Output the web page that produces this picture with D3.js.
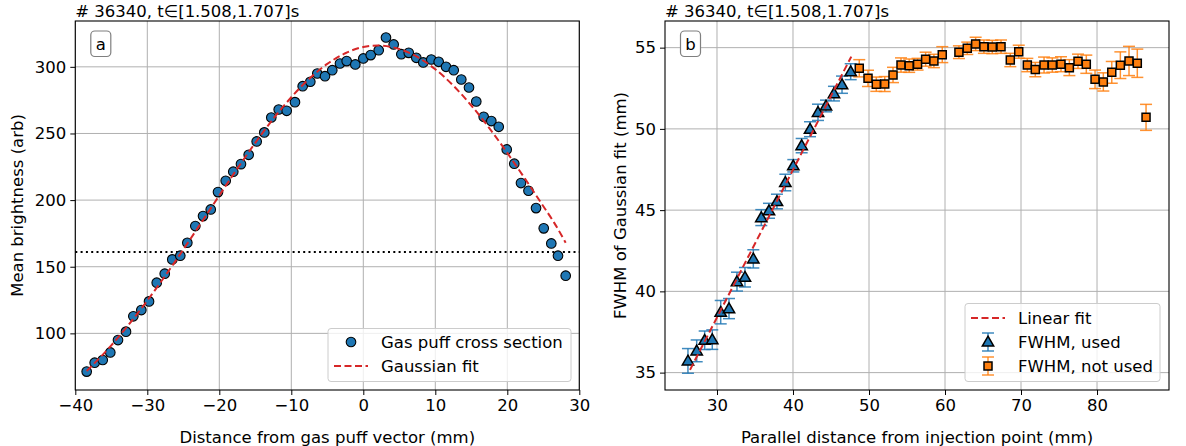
<!DOCTYPE html>
<html>
<head>
<meta charset="utf-8">
<script src="https://cdn.jsdelivr.net/npm/d3@7"></script>
<style>
  html, body { margin: 0; padding: 0; background: #fff; }
  svg { display: block; font-family: "DejaVu Sans", sans-serif; }
</style>
</head>
<body>
<svg id="chart" width="1186" height="446"></svg>
<script>
// ---------------- DATA ----------------
const titleText = "# 36340, t\u2208[1.508,1.707]s";

// Panel a: gas puff cross section
const distMm = [-38.42,-37.31,-36.19,-35.14,-34.07,-32.96,-31.94,-30.83,-29.76,-28.69,
  -27.58,-26.53,-25.42,-24.44,-23.33,-22.26,-21.19,-20.18,-19.11,-18.06,
  -16.99,-15.92,-14.81,-13.75,-12.78,-11.75,-10.64,-9.49,-8.42,-7.36,
  -6.39,-5.32,-4.31,-3.24,-2.31,-1.11,0.0,1.03,2.14,3.15,
  4.22,5.28,6.31,7.36,8.33,9.44,10.47,11.49,12.56,13.61,
  14.68,15.69,16.72,17.78,18.81,19.92,20.97,21.90,22.94,23.99,
  25.06,26.11,27.04,28.11];
const brightness = [71.3,78,80,85.7,95,101.3,112.8,117.5,124,138,
  144.8,155.5,158.3,168,180.5,188,193,206,214.5,221.3,
  227,234,244,250.8,262,268,267,273.5,285.5,288.8,
  295,293,297.5,302.5,304.3,301.8,306.3,308.8,312.5,322,
  316.8,309.5,310.5,306.8,303.3,305.5,303.8,300,297.5,290.5,
  284.5,274,262.5,259.3,255,238,227.3,212.8,207,194,
  178.8,167.5,158.3,143.3];
const gaussFitX = [-38.42,-35,-32.5,-30,-27.5,-25,-22.5,-20,-17.5,-15,-12.5,-10,-7.5,-5,-2.5,0,2,5,7.5,10,12.5,15,17.5,20,22.5,25,26.5,28.11];
const gaussFitY = [71.7,91.0,107.1,124.6,143.3,162.9,183.1,203.5,223.6,243.0,261.0,277.2,291.1,302.2,310.2,314.9,316.0,313.4,307.4,298.2,285.9,271.0,254.0,235.4,215.7,195.4,183.1,168.0];
const halfMaxLevel = 161;

const aXTicks = [-40,-30,-20,-10,0,10,20,30];
const aYTicks = [100,150,200,250,300];

// Panel b: FWHM vs parallel distance
const usedX = [26.18,27.33,28.38,29.38,30.49,31.58,32.63,33.68,34.78,35.83,36.84,37.89,38.99,40.04,41.14,42.24,43.29,44.34,45.39,46.45,47.59];
const usedFwhm = [35.72,36.34,36.99,37.03,38.72,38.94,40.60,40.87,42.00,44.54,44.96,45.53,46.70,47.73,48.97,49.98,51.02,51.41,52.17,52.72,53.52];
const usedErr = [0.76,0.67,0.57,0.60,0.72,0.62,0.58,0.60,0.56,0.49,0.46,0.45,0.51,0.38,0.44,0.46,0.50,0.36,0.45,0.53,0.49];

const notUsedX = [48.72,49.87,50.96,52.07,53.16,54.21,55.29,56.39,57.45,58.54,59.64,61.83,62.93,64.03,65.12,66.22,67.37,68.59,69.70,70.83,71.88,73.03,74.12,75.26,76.36,77.50,78.59,79.74,80.83,81.94,83.07,84.21,85.30,86.45];
const notUsedFwhm = [53.73,53.11,52.75,52.76,53.32,53.93,53.89,53.98,54.29,54.18,54.57,54.72,54.96,55.23,55.06,55.04,55.06,54.24,54.75,53.93,53.65,53.93,53.93,53.98,53.77,54.16,53.98,53.05,52.89,53.48,53.92,54.18,54.04,50.71];
const notUsedErr = [0.53,0.50,0.44,0.46,0.47,0.44,0.41,0.36,0.43,0.41,0.49,0.39,0.38,0.41,0.41,0.41,0.41,0.41,0.40,0.41,0.44,0.49,0.44,0.46,0.49,0.44,0.56,0.57,0.56,0.67,0.82,0.90,0.87,0.80];

const linearFitX = [26.45, 47.67];
const linearFitY = [35.17, 54.45];

const bXTicks = [30,40,50,60,70,80];
const bYTicks = [35,40,45,50,55];

// ---------------- STYLE ----------------
const C_BLUE = "#1f77b4", C_ORANGE = "#ff7f0e", C_RED = "#d62728";
const FS = 16.5;

const svg = d3.select("#chart");

function makePanel(cfg) {
  const x = d3.scaleLinear().domain(cfg.xDomain).range([cfg.left, cfg.right]);
  const y = d3.scaleLinear().domain(cfg.yDomain).range([cfg.bottom, cfg.top]);
  const g = svg.append("g");
  g.append("g").selectAll("line").data(cfg.xTicks).join("line")
    .attr("x1", d => x(d)).attr("x2", d => x(d)).attr("y1", cfg.top).attr("y2", cfg.bottom)
    .attr("stroke", "#b0b0b0").attr("stroke-width", 1);
  g.append("g").selectAll("line").data(cfg.yTicks).join("line")
    .attr("y1", d => y(d)).attr("y2", d => y(d)).attr("x1", cfg.left).attr("x2", cfg.right)
    .attr("stroke", "#b0b0b0").attr("stroke-width", 1);
  return {x, y, g};
}

function finishPanel(p, cfg) {
  const {x, y, g} = p;
  g.append("rect").attr("x", cfg.left).attr("y", cfg.top)
    .attr("width", cfg.right - cfg.left).attr("height", cfg.bottom - cfg.top)
    .attr("fill", "none").attr("stroke", "#000").attr("stroke-width", 1.1);
  const fmt = d3.format("");
  const ax = g.append("g").attr("transform", `translate(0,${cfg.bottom})`)
    .call(d3.axisBottom(x).tickValues(cfg.xTicks).tickSize(5).tickPadding(4).tickFormat(d => fmt(d)));
  const ay = g.append("g").attr("transform", `translate(${cfg.left},0)`)
    .call(d3.axisLeft(y).tickValues(cfg.yTicks).tickSize(5).tickPadding(4).tickFormat(d => fmt(d)));
  [ax, ay].forEach(a => {
    a.select(".domain").remove();
    a.selectAll(".tick line").attr("stroke", "#000").attr("stroke-width", 1);
    a.selectAll(".tick text").attr("fill", "#000").style("font-size", FS + "px")
      .style("font-family", "DejaVu Sans");
  });
  g.append("text").attr("x", (cfg.left + cfg.right) / 2).attr("y", 443)
    .attr("text-anchor", "middle").style("font-size", FS + "px").text(cfg.xLabel);
  g.append("text").attr("transform", `translate(${cfg.yLabelX},${(cfg.top + cfg.bottom) / 2}) rotate(-90)`)
    .attr("text-anchor", "middle").style("font-size", FS + "px").text(cfg.yLabel);
  g.append("text").attr("x", cfg.left).attr("y", 17).style("font-size", FS + "px").text(titleText);
  g.append("rect").attr("x", cfg.left + 15.5).attr("y", 31).attr("width", 20).attr("height", 25.5)
    .attr("rx", 4).attr("fill", "#fff").attr("stroke", "#7f7f7f").attr("stroke-width", 1.2);
  g.append("text").attr("x", cfg.left + 25.5).attr("y", 49.5).attr("text-anchor", "middle")
    .style("font-size", FS + "px").text(cfg.letter);
}

// ---------------- PANEL A ----------------
const cfgA = {left: 75.3, right: 579.3, top: 21, bottom: 390,
  xDomain: [-40, 30], yDomain: [57.5, 334.4], xTicks: aXTicks, yTicks: aYTicks,
  xLabel: "Distance from gas puff vector (mm)", yLabel: "Mean brightness (arb)", yLabelX: 23, letter: "a"};
const pA = makePanel(cfgA);
{
  const {x, y, g} = pA;
  const pts = distMm.map((d, i) => ({x: d, y: brightness[i]}));
  g.append("line").attr("x1", cfgA.left).attr("x2", cfgA.right)
    .attr("y1", y(halfMaxLevel)).attr("y2", y(halfMaxLevel))
    .attr("stroke", "#000").attr("stroke-width", 2).attr("stroke-dasharray", "2,3.3");
  g.append("g").selectAll("circle").data(pts).join("circle")
    .attr("cx", d => x(d.x)).attr("cy", d => y(d.y)).attr("r", 4.8)
    .attr("fill", C_BLUE).attr("stroke", "#000").attr("stroke-width", 1.1);
  const fit = gaussFitX.map((d, i) => [d, gaussFitY[i]]);
  g.append("path").datum(fit)
    .attr("d", d3.line().x(d => x(d[0])).y(d => y(d[1])).curve(d3.curveMonotoneX))
    .attr("fill", "none").attr("stroke", C_RED).attr("stroke-width", 2).attr("stroke-dasharray", "7,3.5");
}
finishPanel(pA, cfgA);
{
  const g = pA.g;
  const lg = g.append("g");
  lg.append("rect").attr("x", 328).attr("y", 328.5).attr("width", 243).attr("height", 53)
    .attr("rx", 3).attr("fill", "#fff").attr("fill-opacity", 0.8).attr("stroke", "#ccc");
  lg.append("circle").attr("cx", 351).attr("cy", 342).attr("r", 4.8)
    .attr("fill", C_BLUE).attr("stroke", "#000").attr("stroke-width", 1.1);
  lg.append("line").attr("x1", 334).attr("x2", 368).attr("y1", 366).attr("y2", 366)
    .attr("stroke", C_RED).attr("stroke-width", 2).attr("stroke-dasharray", "7,3.5");
  lg.append("text").attr("x", 381).attr("y", 348).style("font-size", FS + "px").text("Gas puff cross section");
  lg.append("text").attr("x", 381).attr("y", 372).style("font-size", FS + "px").text("Gaussian fit");
}

// ---------------- PANEL B ----------------
const cfgB = {left: 665, right: 1169, top: 21, bottom: 390,
  xDomain: [23.16, 89.47], yDomain: [33.93, 56.64], xTicks: bXTicks, yTicks: bYTicks,
  xLabel: "Parallel distance from injection point (mm)", yLabel: "FWHM of Gaussian fit (mm)", yLabelX: 626, letter: "b"};
const pB = makePanel(cfgB);

function errorBars(g, x, y, xs, ys, es, color) {
  const data = xs.map((d, i) => ({x: d, y: ys[i], e: es[i]}));
  const eg = g.append("g").attr("stroke", color).attr("stroke-width", 1.5).attr("stroke-opacity", 0.85);
  eg.selectAll("line.v").data(data).join("line").attr("class", "v")
    .attr("x1", d => x(d.x)).attr("x2", d => x(d.x)).attr("y1", d => y(d.y - d.e)).attr("y2", d => y(d.y + d.e));
  eg.selectAll("line.t").data(data).join("line").attr("class", "t")
    .attr("x1", d => x(d.x) - 6).attr("x2", d => x(d.x) + 6).attr("y1", d => y(d.y + d.e)).attr("y2", d => y(d.y + d.e));
  eg.selectAll("line.b").data(data).join("line").attr("class", "b")
    .attr("x1", d => x(d.x) - 6).attr("x2", d => x(d.x) + 6).attr("y1", d => y(d.y - d.e)).attr("y2", d => y(d.y - d.e));
  return data;
}
const triSym = d3.symbol().type(d3.symbolTriangle).size(56);
const sqSym = d3.symbol().type(d3.symbolSquare).size(64);
{
  const {x, y, g} = pB;
  const used = errorBars(g, x, y, usedX, usedFwhm, usedErr, C_BLUE);
  const notUsed = errorBars(g, x, y, notUsedX, notUsedFwhm, notUsedErr, C_ORANGE);
  g.append("g").selectAll("path").data(used).join("path")
    .attr("d", triSym).attr("transform", d => `translate(${x(d.x)},${y(d.y) + 0.8})`)
    .attr("fill", C_BLUE).attr("stroke", "#000").attr("stroke-width", 1.5);
  g.append("g").selectAll("path").data(notUsed).join("path")
    .attr("d", sqSym).attr("transform", d => `translate(${x(d.x)},${y(d.y)})`)
    .attr("fill", C_ORANGE).attr("stroke", "#000").attr("stroke-width", 1.5);
  const lf = linearFitX.map((d, i) => [d, linearFitY[i]]);
  g.append("path").datum(lf).attr("d", d3.line().x(d => x(d[0])).y(d => y(d[1])))
    .attr("fill", "none").attr("stroke", C_RED).attr("stroke-width", 2).attr("stroke-dasharray", "7,3.5");
}
finishPanel(pB, cfgB);
{
  const g = pB.g;
  const lg = g.append("g");
  lg.append("rect").attr("x", 965).attr("y", 303.5).attr("width", 195).attr("height", 78)
    .attr("rx", 3).attr("fill", "#fff").attr("fill-opacity", 0.8).attr("stroke", "#ccc");
  lg.append("line").attr("x1", 971).attr("x2", 1005).attr("y1", 318).attr("y2", 318)
    .attr("stroke", C_RED).attr("stroke-width", 2).attr("stroke-dasharray", "7,3.5");
  const hx = 988;
  [[342, C_BLUE, triSym, 0.8], [366, C_ORANGE, sqSym, 0]].forEach(([cy, col, sym, off]) => {
    const eg = lg.append("g").attr("stroke", col).attr("stroke-width", 1.5).attr("stroke-opacity", 0.85);
    eg.append("line").attr("x1", hx).attr("x2", hx).attr("y1", cy - 9).attr("y2", cy + 9);
    eg.append("line").attr("x1", hx - 6).attr("x2", hx + 6).attr("y1", cy - 9).attr("y2", cy - 9);
    eg.append("line").attr("x1", hx - 6).attr("x2", hx + 6).attr("y1", cy + 9).attr("y2", cy + 9);
    lg.append("path").attr("d", sym).attr("transform", `translate(${hx},${cy + off})`)
      .attr("fill", col).attr("stroke", "#000").attr("stroke-width", 1.5);
  });
  lg.append("text").attr("x", 1018).attr("y", 324).style("font-size", FS + "px").text("Linear fit");
  lg.append("text").attr("x", 1018).attr("y", 348).style("font-size", FS + "px").text("FWHM, used");
  lg.append("text").attr("x", 1018).attr("y", 372).style("font-size", FS + "px").text("FWHM, not used");
}
</script>
</body>
</html>
